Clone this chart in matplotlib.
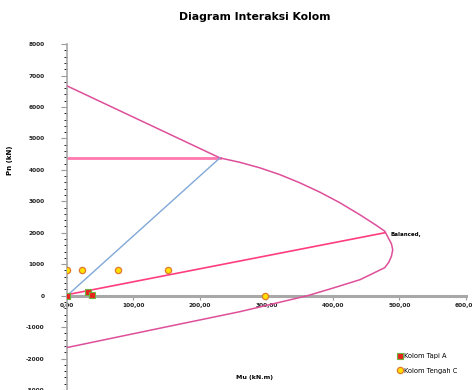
import matplotlib
matplotlib.use('Agg')
import matplotlib.pyplot as plt
from matplotlib.ticker import MultipleLocator, FuncFormatter

# Kurva interaksi (Mn, Pn) dari tekan murni ke tarik murni
kurva_m = [0, 230, 260, 290, 320, 350, 380, 410, 440, 465, 478,
           483, 488, 490, 488, 484, 478, 441, 400, 362, 260, 150, 0]
kurva_p = [6670, 4380, 4240, 4065, 3850, 3590, 3295, 2960, 2580, 2240, 2050,
           1850, 1650, 1460, 1250, 1060, 890, 510, 240, 0, -510, -990, -1650]

# Batas Pn maks (garis datar)
pn_maks_m = [0, 230]
pn_maks_p = [4380, 4380]

# Garis dari titik nol ke titik balanced
balanced_m = [0, 478]
balanced_p = [30, 2000]

# Garis dari titik nol ke ujung Pn maks
garis_biru_m = [0, 230]
garis_biru_p = [0, 4380]

# Beban kolom
tapi_a_m = [0, 32, 38]
tapi_a_p = [0, 120, 30]
tengah_c_m = [0, 22, 77, 152, 298]
tengah_c_p = [830, 830, 830, 830, 0]

fig = plt.figure(figsize=(4.72, 3.9), dpi=100)
ax = fig.add_axes([0.142, 0.0, 0.845, 0.887])

ax.plot(pn_maks_m, pn_maks_p, color='#FF78AE', lw=2.0, zorder=2)
ax.plot(kurva_m, kurva_p, color='#DE4F9A', lw=1.1, zorder=3)
ax.plot(balanced_m, balanced_p, color='#FF3D80', lw=1.2, zorder=3)
ax.plot(garis_biru_m, garis_biru_p, color='#80A8D8', lw=1.0, zorder=3)

ax.plot(tapi_a_m, tapi_a_p, 's', ms=4, color='#E8231C', mec='#6DB33F',
        mew=0.8, ls='none', label='Kolom Tapi A', zorder=5)
ax.plot(tengah_c_m, tengah_c_p, 'o', ms=4.5, color='#FFE000', mec='#E07A2E',
        mew=0.9, ls='none', label='Kolom Tengah C', zorder=5)

ax.text(487, 1950, 'Balanced,', fontsize=4, fontweight='bold', va='center')

ax.set_xlim(0, 600)
ax.set_ylim(-3000, 8000)
ax.xaxis.set_major_locator(MultipleLocator(100))
ax.yaxis.set_major_locator(MultipleLocator(1000))
ax.yaxis.set_minor_locator(MultipleLocator(200))
ax.xaxis.set_major_formatter(FuncFormatter(lambda v, p: f'{v:.2f}'.replace('.', ',')))
ax.yaxis.set_major_formatter(FuncFormatter(lambda v, p: f'{v:.0f}'))

for s in ['top', 'right']:
    ax.spines[s].set_visible(False)
ax.spines['bottom'].set_position(('data', 0))
ax.spines['bottom'].set_color('#A8A8A8')
ax.spines['bottom'].set_linewidth(2.2)
ax.spines['left'].set_color('#A8A8A8')
ax.spines['left'].set_linewidth(1.2)
ax.tick_params(axis='both', labelsize=4.2, colors='#999999', labelcolor='#222222')
ax.tick_params(axis='x', length=3, pad=2)
ax.tick_params(axis='y', which='major', length=4, pad=12)
ax.tick_params(axis='y', which='minor', length=2)
for lbl in ax.get_xticklabels() + ax.get_yticklabels():
    lbl.set_fontweight('bold')

fig.text(0.54, 0.957, 'Diagram Interaksi Kolom', ha='center', va='center',
         fontsize=7.8, fontweight='bold')
fig.text(0.022, 0.59, 'Pn (kN)', ha='center', va='center', rotation=90,
         fontsize=5, fontweight='bold')
fig.text(0.54, 0.031, 'Mu (kN.m)', ha='center', va='center', fontsize=4.5,
         fontweight='bold')

ax.legend(loc='lower right', bbox_to_anchor=(0.995, 0.03), fontsize=4.8,
          frameon=False, handlelength=0.6, handletextpad=0.3, labelspacing=1.3)

fig.savefig('out.png', dpi=100)
